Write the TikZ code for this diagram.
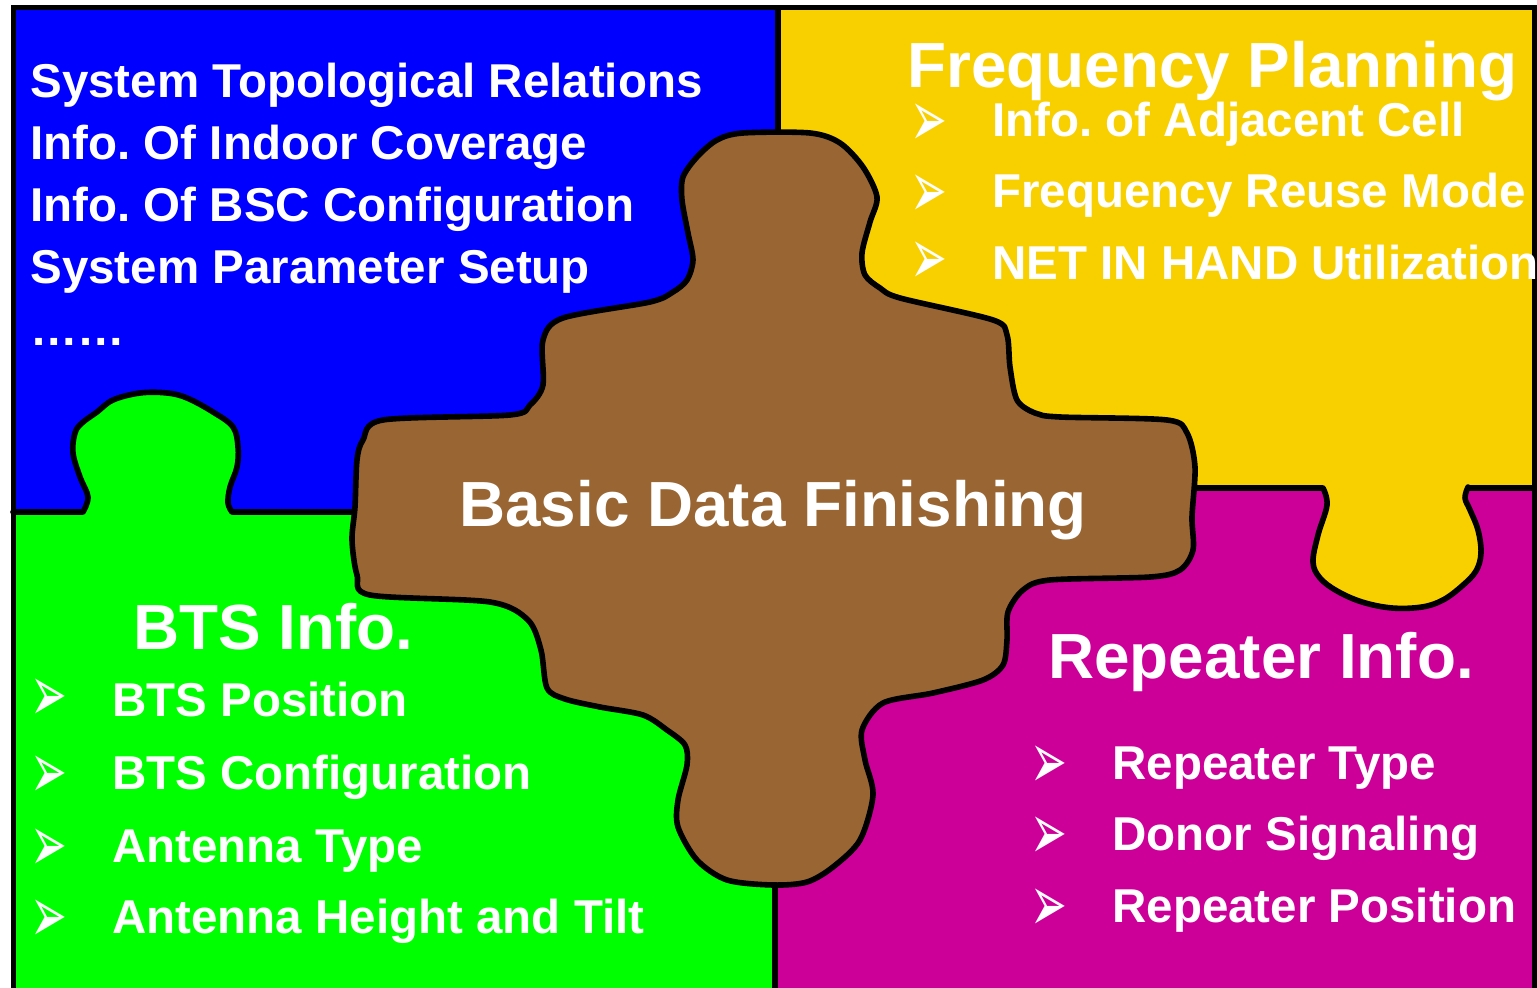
\documentclass[tikz,border=0pt]{standalone}
\usepackage{fontspec}
\setmainfont{Liberation Sans}
\newfontfamily\dejavu{DejaVu Sans}
\usetikzlibrary{positioning}

\definecolor{pieceblue}{RGB}{0,0,255}
\definecolor{pieceyellow}{RGB}{248,208,0}
\definecolor{piecegreen}{RGB}{0,255,0}
\definecolor{piecemagenta}{RGB}{204,0,153}
\definecolor{piecebrown}{RGB}{153,102,51}
\newcommand{\arrowhd}{\scalebox{1.1}[2.0]{➢}}
\frenchspacing

\begin{document}
\begin{tikzpicture}[%
        x=0.5pt, y=-0.5pt,
        every node/.style={inner sep=0pt, text=white},
        cutline/.style={line width=2.8pt, line join=round, line cap=round},
        item/.style={anchor=base west, font=\bfseries\fontsize{23.75}{28}\selectfont},
        heading/.style={anchor=base west, font=\bfseries\fontsize{31.9}{36}\selectfont},
        bullet/.style={font=\dejavu\fontsize{20}{20}\selectfont}
      ]
      \useasboundingbox (0,0) rectangle (1537,988);
      \clip (0,0) rectangle (1537,988);
      \fill [pieceblue] (13,8) rectangle (778,512);
      \fill [pieceyellow] (778,8) rectangle (1537,488);
      \fill [piecegreen] (13,512) rectangle (775,1000);
      \fill [piecemagenta] (775,488) rectangle (1537,1000);
      \draw [cutline] (13,512) -- (360,512);
      \draw [cutline] (1190,488) -- (1537,488);
      \draw [cutline] (778,8) -- (778,140);
      \draw [cutline] (775,880) -- (775,1000);
      \fill [piecegreen] plot [smooth, tension=0.6] coordinates {(83,512) (88,497) (80,477) (73,453) (75,433) (82,423) (97,412) (113,400) (140,393) (167,393) (187,398) (213,412) (233,427) (238,447) (237,467) (230,487) (228,503) (232,512)} -- (232,522) -- (83,522) -- cycle;
      \draw [cutline] plot [smooth, tension=0.6] coordinates {(83,512) (88,497) (80,477) (73,453) (75,433) (82,423) (97,412) (113,400) (140,393) (167,393) (187,398) (213,412) (233,427) (238,447) (237,467) (230,487) (228,503) (232,512)};
      \fill [pieceyellow] plot [smooth, tension=0.6] coordinates {(1323,488) (1327,505) (1318,535) (1313,562) (1320,578) (1337,591) (1362,602) (1392,608) (1422,607) (1443,600) (1462,586) (1476,571) (1481,553) (1478,530) (1470,510) (1465,498) (1468,487)} -- (1468,478) -- (1323,478) -- cycle;
      \draw [cutline] plot [smooth, tension=0.6] coordinates {(1323,488) (1327,505) (1318,535) (1313,562) (1320,578) (1337,591) (1362,602) (1392,608) (1422,607) (1443,600) (1462,586) (1476,571) (1481,553) (1478,530) (1470,510) (1465,498) (1468,487)};
      \filldraw [cutline, fill=piecebrown] plot [smooth cycle, tension=0.5] coordinates {(743,133) (810,133) (840,143) (863,167) (877,197) (870,222) (862,253) (865,275) (880,288) (900,298) (993,320) (1007,335) (1010,367) (1017,400) (1035,413) (1060,417) (1167,420) (1187,433) (1195,467) (1192,517) (1193,550) (1180,570) (1150,577) (1050,580) (1023,590) (1008,612) (1007,640) (1003,665) (983,680) (933,693) (883,703) (862,730) (865,760) (873,795) (860,840) (833,867) (807,882) (773,885) (727,880) (697,860) (678,827) (678,800) (687,765) (685,745) (667,730) (643,715) (600,707) (565,699) (547,688) (541,650) (528,620) (490,602) (370,595) (357,575) (352,540) (355,507) (357,460) (363,440) (383,420) (510,415) (530,405) (543,385) (543,340) (563,318) (650,302) (673,292) (687,280) (693,260) (688,233) (682,200) (683,177) (697,157) (717,140)};
      \draw [line width=2.5pt] (13,8) rectangle (1534,1010);

      \node (s1) [item] at (30,98) {System Topological Relations};
      \node (s2) [item] at (30,160) {Info. Of Indoor Coverage};
      \node (s3) [item] at (30,222) {Info. Of BSC Configuration};
      \node (s4) [item] at (30,284) {System Parameter Setup};
      \node (s5) [item] at (30,346) {……};

      \node (f0) [heading] at (907,88) {Frequency Planning};
      \node (f1) [item] at (992,137) {Info. of Adjacent Cell};
      \node (f2) [item] at (992,208) {Frequency Reuse Mode};
      \node (f3) [item] at (992,280) {NET IN HAND Utilization};
      \node (fb1) [bullet, left=22pt of f1.west] {\arrowhd};
      \node (fb2) [bullet, left=22pt of f2.west] {\arrowhd};
      \node (fb3) [bullet, left=22pt of f3.west] {\arrowhd};

      \node (c0) [heading] at (459,527) {Basic Data Finishing};

      \node (b0) [heading] at (133,650) {BTS Info.};
      \node (b1) [item] at (112,717) {BTS Position};
      \node (b2) [item] at (112,789) {BTS Configuration};
      \node (b3) [item] at (112,862) {Antenna Type};
      \node (b4) [item] at (112,933) {Antenna Height and Tilt};
      \node (bb1) [bullet, left=22pt of b1.west] {\arrowhd};
      \node (bb2) [bullet, left=22pt of b2.west] {\arrowhd};
      \node (bb3) [bullet, left=22pt of b3.west] {\arrowhd};
      \node (bb4) [bullet, left=22pt of b4.west] {\arrowhd};

      \node (r0) [heading] at (1048,678) {Repeater Info.};
      \node (r1) [item] at (1112,779) {Repeater Type};
      \node (r2) [item] at (1112,850) {Donor Signaling};
      \node (r3) [item] at (1112,922) {Repeater Position};
      \node (rb1) [bullet, left=22pt of r1.west] {\arrowhd};
      \node (rb2) [bullet, left=22pt of r2.west] {\arrowhd};
      \node (rb3) [bullet, left=22pt of r3.west] {\arrowhd};
    \end{tikzpicture}
\end{document}
